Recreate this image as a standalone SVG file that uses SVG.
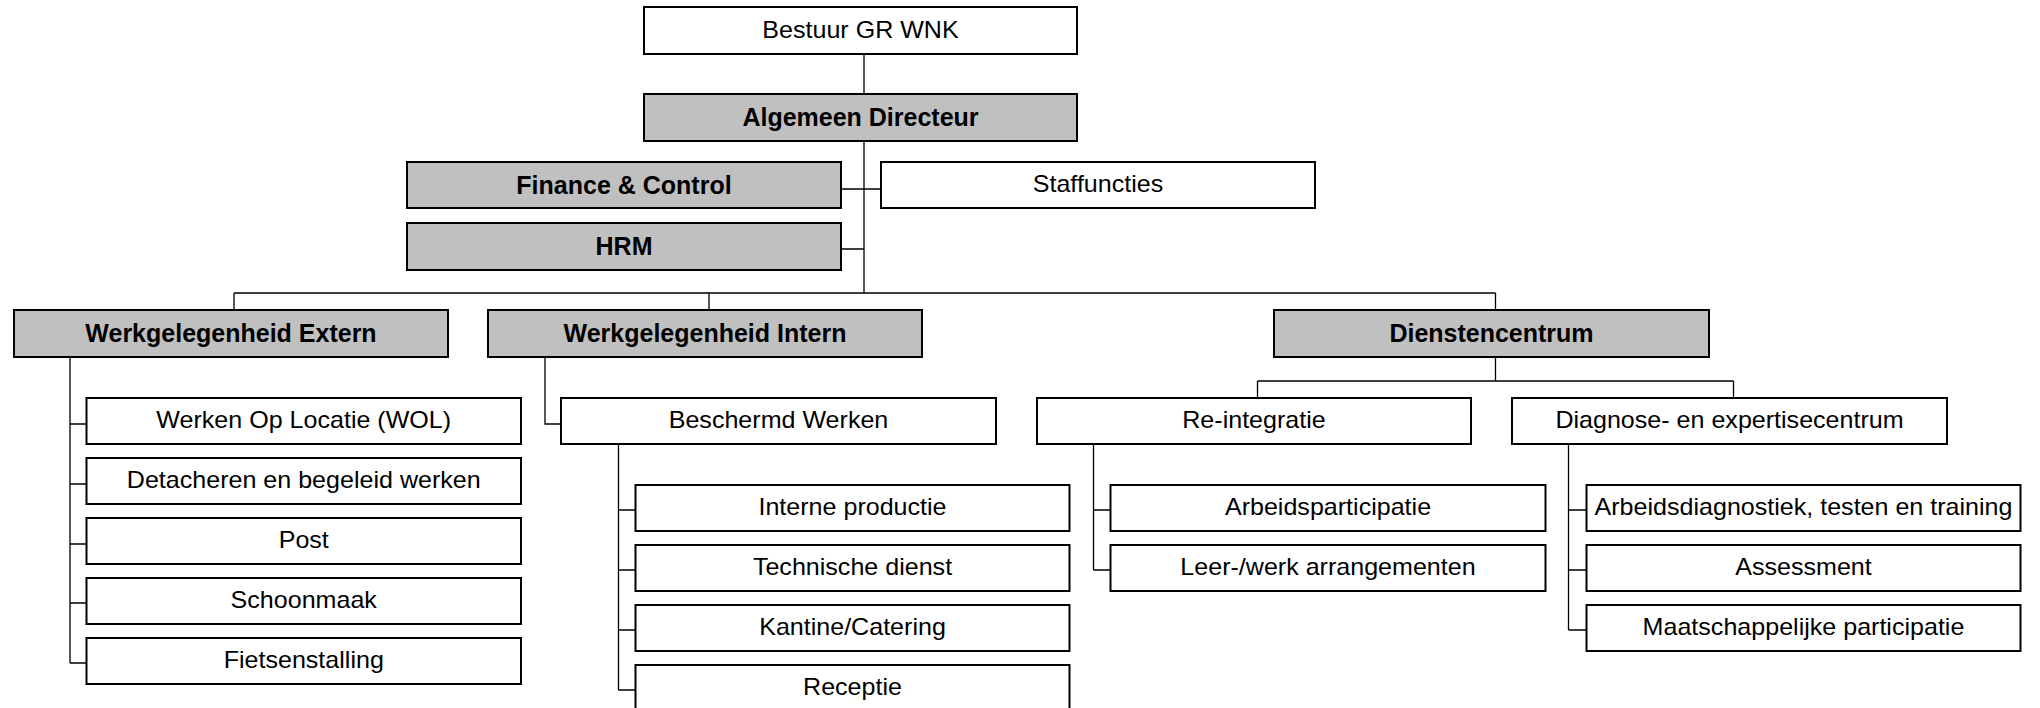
<svg xmlns="http://www.w3.org/2000/svg" width="2040" height="708" viewBox="0 0 2040 708">
<style>
rect.b{fill:#fff;stroke:#000;stroke-width:2}
rect.g{fill:#c0c0c0;stroke:#000;stroke-width:2}
text{font-family:"Liberation Sans",Arial,sans-serif;fill:#000;text-anchor:middle}
text.n{font-size:23px}
text.bd{font-size:25px;font-weight:bold}
#connectors path{fill:none;stroke:#000;stroke-width:1.3}
</style>
<rect width="2040" height="708" fill="#fff"/>
<g id="connectors">
<path d="M864 54V94M864 141V293M841 189H881M841 249H864"/>
<path d="M234 293H1495.5M234 293V310M709 293V310M1495.5 293V310"/>
<path d="M70 357V663M70 424H86.5M70 484H86.5M70 544H86.5M70 603H86.5M70 663H86.5"/>
<path d="M545 357V424H561"/>
<path d="M618.5 444V690M618.5 510H635.5M618.5 570H635.5M618.5 630H635.5M618.5 690H635.5"/>
<path d="M1495.5 357V381M1257.5 381H1733.5M1257.5 381V398M1733.5 381V398"/>
<path d="M1093.5 444V570M1093.5 510H1110.5M1093.5 570H1110.5"/>
<path d="M1568.5 444V630M1568.5 510H1586.5M1568.5 570H1586.5M1568.5 630H1586.5"/>
</g>
<g id="bestuur"><rect class="b" x="644" y="7" width="433" height="47"/><text class="n" transform="translate(860.5 38) scale(1.09 1)">Bestuur GR WNK</text></g>
<g id="algemeen"><rect class="g" x="644" y="94" width="433" height="47"/><text class="bd" x="860.5" y="126">Algemeen Directeur</text></g>
<g id="finance"><rect class="g" x="407" y="162" width="434" height="46"/><text class="bd" x="624" y="193.5">Finance &amp; Control</text></g>
<g id="staff"><rect class="b" x="881" y="162" width="434" height="46"/><text class="n" transform="translate(1098 192) scale(1.09 1)">Staffuncties</text></g>
<g id="hrm"><rect class="g" x="407" y="223" width="434" height="47"/><text class="bd" x="624" y="255">HRM</text></g>
<g id="extern"><rect class="g" x="14" y="310" width="434" height="47"/><text class="bd" x="231" y="342">Werkgelegenheid Extern</text></g>
<g id="intern"><rect class="g" x="488" y="310" width="434" height="47"/><text class="bd" x="705" y="342">Werkgelegenheid Intern</text></g>
<g id="dienst"><rect class="g" x="1274" y="310" width="435" height="47"/><text class="bd" x="1491.5" y="342">Dienstencentrum</text></g>
<g id="wol"><rect class="b" x="86.5" y="398" width="434.5" height="46"/><text class="n" transform="translate(303.75 428) scale(1.09 1)">Werken Op Locatie (WOL)</text></g>
<g id="detacheren"><rect class="b" x="86.5" y="458" width="434.5" height="46"/><text class="n" transform="translate(303.75 488) scale(1.09 1)">Detacheren en begeleid werken</text></g>
<g id="post"><rect class="b" x="86.5" y="518" width="434.5" height="46"/><text class="n" transform="translate(303.75 548) scale(1.09 1)">Post</text></g>
<g id="schoonmaak"><rect class="b" x="86.5" y="578" width="434.5" height="46"/><text class="n" transform="translate(303.75 608) scale(1.09 1)">Schoonmaak</text></g>
<g id="fiets"><rect class="b" x="86.5" y="638" width="434.5" height="46"/><text class="n" transform="translate(303.75 668) scale(1.09 1)">Fietsenstalling</text></g>
<g id="beschermd"><rect class="b" x="561" y="398" width="435" height="46"/><text class="n" transform="translate(778.5 428) scale(1.09 1)">Beschermd Werken</text></g>
<g id="interne"><rect class="b" x="635.5" y="485" width="434" height="46"/><text class="n" transform="translate(852.5 515) scale(1.09 1)">Interne productie</text></g>
<g id="technisch"><rect class="b" x="635.5" y="545" width="434" height="46"/><text class="n" transform="translate(852.5 575) scale(1.09 1)">Technische dienst</text></g>
<g id="kantine"><rect class="b" x="635.5" y="605" width="434" height="46"/><text class="n" transform="translate(852.5 635) scale(1.09 1)">Kantine/Catering</text></g>
<g id="receptie"><rect class="b" x="635.5" y="665" width="434" height="46"/><text class="n" transform="translate(852.5 695) scale(1.09 1)">Receptie</text></g>
<g id="reintegratie"><rect class="b" x="1037" y="398" width="434" height="46"/><text class="n" transform="translate(1254 428) scale(1.09 1)">Re-integratie</text></g>
<g id="diagnose"><rect class="b" x="1512" y="398" width="435" height="46"/><text class="n" transform="translate(1729.5 428) scale(1.09 1)">Diagnose- en expertisecentrum</text></g>
<g id="arbeidspart"><rect class="b" x="1110.5" y="485" width="435" height="46"/><text class="n" transform="translate(1328 515) scale(1.09 1)">Arbeidsparticipatie</text></g>
<g id="leerwerk"><rect class="b" x="1110.5" y="545" width="435" height="46"/><text class="n" transform="translate(1328 575) scale(1.09 1)">Leer-/werk arrangementen</text></g>
<g id="arbeidsdiag"><rect class="b" x="1586.5" y="485" width="434" height="46"/><text class="n" transform="translate(1803.5 515) scale(1.09 1)">Arbeidsdiagnostiek, testen en training</text></g>
<g id="assessment"><rect class="b" x="1586.5" y="545" width="434" height="46"/><text class="n" transform="translate(1803.5 575) scale(1.09 1)">Assessment</text></g>
<g id="maatschappelijk"><rect class="b" x="1586.5" y="605" width="434" height="46"/><text class="n" transform="translate(1803.5 635) scale(1.09 1)">Maatschappelijke participatie</text></g>
</svg>
